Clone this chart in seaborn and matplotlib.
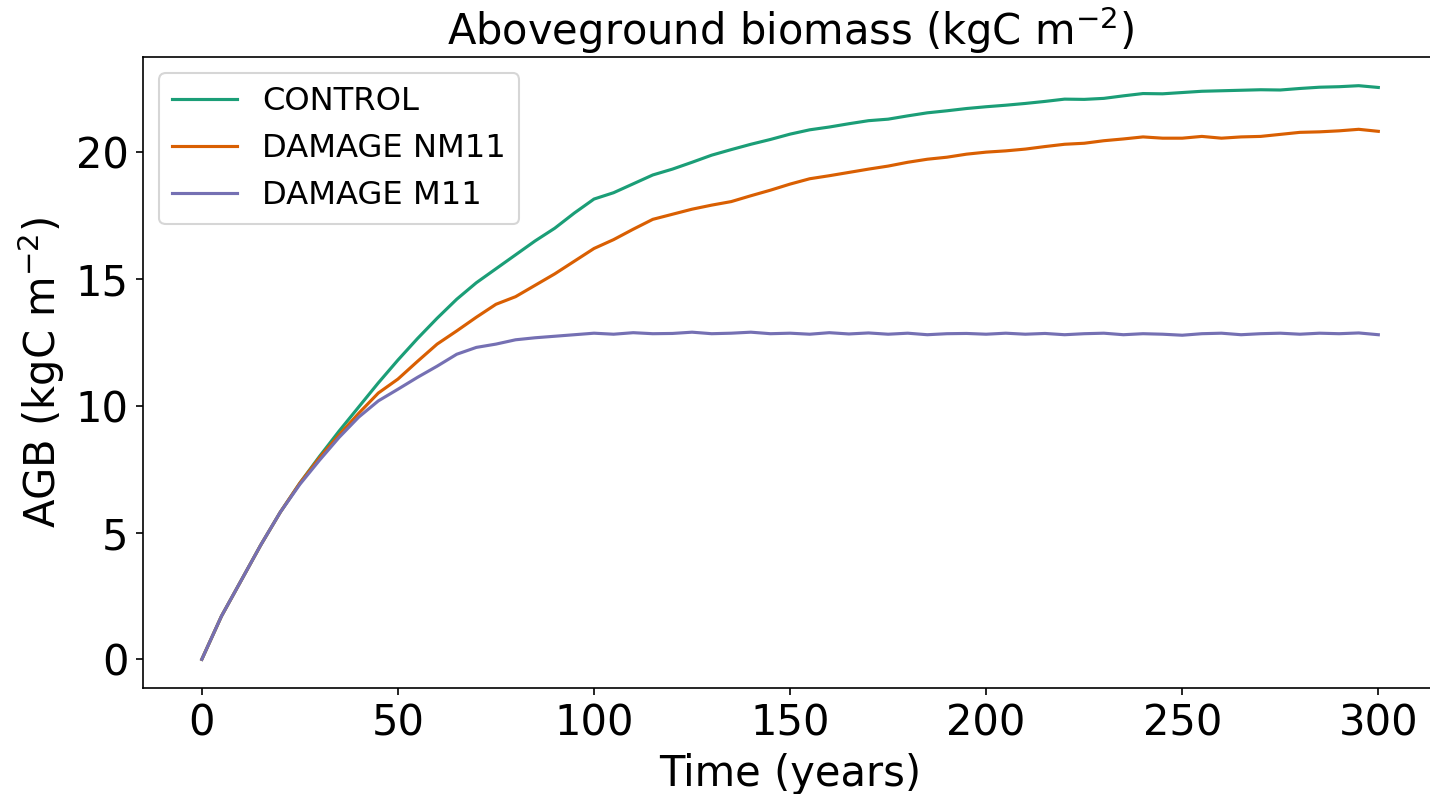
import matplotlib
matplotlib.use("Agg")
import matplotlib.pyplot as plt
import seaborn as sns
import pandas as pd

years = list(range(0, 301, 5))

control = [0.0, 1.7, 3.1, 4.5, 5.8, 6.95, 8.0, 9.0, 9.95, 10.9,
           11.8, 12.65, 13.45, 14.2, 14.85, 15.4, 15.95, 16.5, 17.0, 17.6,
           18.15, 18.4, 18.75, 19.1, 19.33, 19.6, 19.88, 20.1, 20.31, 20.5,
           20.71, 20.88, 20.99, 21.12, 21.24, 21.3, 21.43, 21.55, 21.63, 21.72,
           21.79, 21.85, 21.92, 22.0, 22.09, 22.08, 22.12, 22.22, 22.31, 22.3,
           22.35, 22.4, 22.42, 22.44, 22.46, 22.45, 22.51, 22.56, 22.58, 22.62,
           22.55]

damage_nm11 = [0.0, 1.7, 3.1, 4.5, 5.8, 6.95, 7.95, 8.85, 9.7, 10.5,
               11.05, 11.75, 12.43, 12.95, 13.49, 14.0, 14.3, 14.75, 15.2, 15.7,
               16.2, 16.55, 16.96, 17.35, 17.55, 17.75, 17.91, 18.05, 18.28, 18.5,
               18.74, 18.95, 19.07, 19.2, 19.33, 19.45, 19.6, 19.72, 19.8, 19.92,
               20.0, 20.05, 20.12, 20.22, 20.31, 20.35, 20.45, 20.52, 20.6, 20.55,
               20.55, 20.62, 20.55, 20.6, 20.62, 20.7, 20.78, 20.8, 20.84, 20.9,
               20.82]

damage_m11 = [0.0, 1.7, 3.1, 4.5, 5.8, 6.9, 7.85, 8.75, 9.55, 10.19,
              10.65, 11.12, 11.56, 12.03, 12.3, 12.43, 12.6, 12.68, 12.74, 12.8,
              12.86, 12.82, 12.88, 12.84, 12.85, 12.9, 12.84, 12.86, 12.9, 12.84,
              12.86, 12.82, 12.88, 12.83, 12.87, 12.82, 12.86, 12.8, 12.84, 12.85,
              12.82, 12.86, 12.82, 12.85, 12.8, 12.84, 12.86, 12.8, 12.84, 12.82,
              12.78, 12.84, 12.86, 12.8, 12.84, 12.86, 12.82, 12.86, 12.84, 12.87,
              12.8]

series_names = ["CONTROL", "DAMAGE NM11", "DAMAGE M11"]
colors = ["#1b9e77", "#d95f02", "#7570b3"]

rows = []
for name, vals in zip(series_names, [control, damage_nm11, damage_m11]):
    assert len(vals) == len(years)
    for t, v in zip(years, vals):
        rows.append({"Time": t, "AGB": v, "run": name})
df = pd.DataFrame(rows)

plt.rcParams["font.family"] = ["DejaVu Sans"]
fig = plt.figure(figsize=(1430 / 150, 794 / 150), dpi=150)
ax = fig.add_axes([0.1, 0.1335, 0.905, 0.7947])

sns.lineplot(data=df, x="Time", y="AGB", hue="run", hue_order=series_names,
             palette=colors, linewidth=1.5, ax=ax)

ax.set_title("Aboveground biomass (kgC m$^{-2}$)", fontsize=20)
ax.set_xlabel("Time (years)", fontsize=20)
ax.set_ylabel("AGB (kgC m$^{-2}$)", fontsize=20)
ax.tick_params(labelsize=20)
ax.set_xticks([0, 50, 100, 150, 200, 250, 300])
ax.set_yticks([0, 5, 10, 15, 20])
ax.spines["right"].set_visible(False)
ax.legend(loc="upper left", fontsize=15.5, title=None)

fig.savefig("out.png", dpi=150)
